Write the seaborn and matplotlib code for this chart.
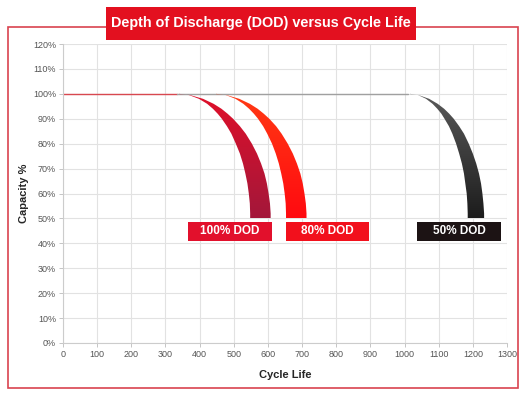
import numpy as np
import pandas as pd
import matplotlib
matplotlib.use("Agg")
import matplotlib.pyplot as plt
import seaborn as sns
from matplotlib.patches import Rectangle, Polygon
from matplotlib.colors import LinearSegmentedColormap

# capacity levels (%) at which the band edges were read
levels = [100, 99.5, 98, 96, 94, 92, 90, 87, 84, 80, 76, 72, 68, 64, 60, 56, 52, 50]

# cycle counts of the outer / inner edge of each band
dod100_outer = [333, 372, 410, 441, 464, 482, 498, 518, 535, 553, 568, 580, 590, 597, 602, 606, 608, 608]
dod100_inner = [340, 369, 398, 422, 439, 453, 465, 480, 493, 506, 518, 527, 534, 540, 544, 547, 548, 548]
dod80_outer = [440, 479, 516, 547, 570, 588, 604, 624, 640, 658, 673, 685, 695, 702, 707, 711, 713, 713]
dod80_inner = [448, 477, 505, 528, 545, 559, 571, 586, 598, 612, 623, 632, 639, 645, 649, 652, 653, 653]
dod50_outer = [1010, 1041, 1072, 1097, 1116, 1131, 1144, 1160, 1174, 1188, 1200, 1210, 1218, 1224, 1228, 1231, 1233, 1233]
dod50_inner = [1016, 1040, 1063, 1082, 1096, 1108, 1117, 1130, 1140, 1151, 1160, 1168, 1174, 1178, 1182, 1184, 1185, 1185]

# flat 100% capacity line
flat_cycles = [0, 333, 1010]
flat_capacity = [100, 100, 100]

labels = ["100% DOD", "80% DOD", "50% DOD"]
label_left = [366, 653, 1037]
label_right = [612, 896, 1283]

x_ticks = list(range(0, 1301, 100))
y_ticks = list(range(0, 121, 10))

sns.set_style("whitegrid")
plt.rcParams["font.family"] = ["Liberation Sans", "DejaVu Sans"]

fig = plt.figure(figsize=(5.25, 4), dpi=100)
ax = fig.add_axes([0.12, 0.1425, 0.8457, 0.7475])

# flat line: red start, grey after first curve starts
flat = pd.DataFrame({"cycles": flat_cycles, "capacity": flat_capacity})
sns.lineplot(data=flat.iloc[:2], x="cycles", y="capacity", color="#d84850",
             linewidth=1.0, ax=ax)
sns.lineplot(data=flat.iloc[1:], x="cycles", y="capacity", color="#a0a0a0",
             linewidth=1.0, ax=ax)


def draw_band(outer, inner, top_color, bottom_color):
    pts = list(zip(outer, levels)) + list(zip(inner[::-1], levels[::-1]))
    poly = Polygon(pts, closed=True, facecolor="none", edgecolor="none")
    ax.add_patch(poly)
    cmap = LinearSegmentedColormap.from_list("g", [bottom_color, top_color])
    grad = np.linspace(0, 1, 256).reshape(-1, 1)
    im = ax.imshow(grad, cmap=cmap, origin="lower", aspect="auto",
                   extent=[min(inner), max(outer), 50, 100], zorder=3)
    im.set_clip_path(poly)


draw_band(dod100_outer, dod100_inner, "#e0102a", "#a3173a")
draw_band(dod80_outer, dod80_inner, "#ff3a14", "#ff0a10")
draw_band(dod50_outer, dod50_inner, "#5a5a5a", "#1c1c1c")

# grid and axes styling
ax.set_xlim(0, 1300)
ax.set_ylim(0, 120)
ax.set_xticks(x_ticks)
ax.set_yticks(y_ticks)
ax.set_yticklabels([f"{v}%" for v in y_ticks])
ax.grid(True, color="#e2e2e2", linewidth=0.8)
for side in ["top", "right"]:
    ax.spines[side].set_visible(False)
for side in ["left", "bottom"]:
    ax.spines[side].set_color("#cccccc")
    ax.spines[side].set_linewidth(0.8)
ax.tick_params(axis="both", length=3, width=0.6, color="#bbbbbb",
               labelsize=6.5, labelcolor="#555555", pad=2)
ax.tick_params(axis="both", which="both", bottom=True, left=True)
ax.set_xlabel("Cycle Life", fontsize=8, fontweight="bold", labelpad=8)
ax.set_ylabel("Capacity %", fontsize=8, fontweight="bold", labelpad=3)

# DOD labels
box_colors = ["#e2102c", "#f2101c", "#1c1314"]
for lab, x0, x1, c in zip(labels, label_left, label_right, box_colors):
    ax.add_patch(Rectangle((x0, 41), x1 - x0, 7.6, facecolor=c,
                           edgecolor="none", zorder=4))
    ax.text((x0 + x1) / 2, 44.8, lab, color="white", fontsize=8.5,
            fontweight="bold", ha="center", va="center", zorder=5)

# red frame and title box
fig.patches.append(Rectangle((0.0152, 0.03), 0.9715, 0.9025, transform=fig.transFigure,
                             facecolor="none", edgecolor="#d9434f", linewidth=1.2))
fig.patches.append(Rectangle((106 / 525, 1 - 40 / 400), 310 / 525, 33 / 400,
                             transform=fig.transFigure, facecolor="#e3101f",
                             edgecolor="none", zorder=5))
fig.text(261 / 525, 1 - 23.5 / 400, "Depth of Discharge (DOD) versus Cycle Life",
         color="white", fontsize=10.4, fontweight="bold", ha="center", va="center",
         zorder=6)

fig.savefig("out.png", dpi=100)
